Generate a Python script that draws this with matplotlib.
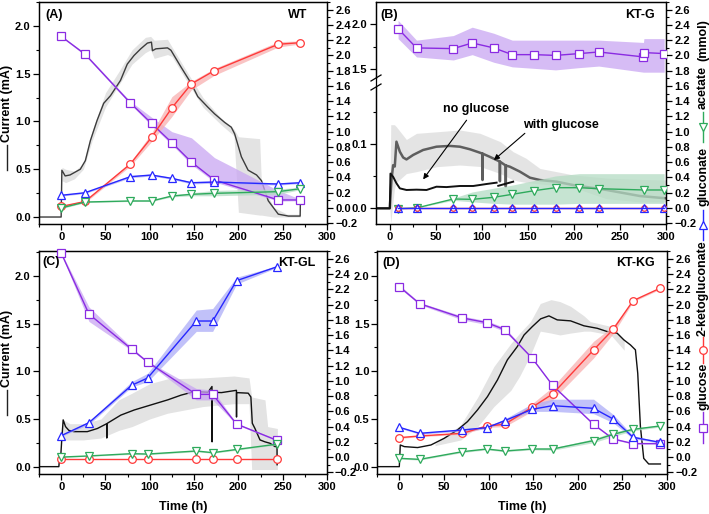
import numpy as np
import matplotlib
matplotlib.use("Agg")
import matplotlib.pyplot as plt
from matplotlib.lines import Line2D
from matplotlib.ticker import MultipleLocator, FixedLocator, FuncFormatter

plt.rcParams['font.family'] = ['Liberation Sans', 'DejaVu Sans']
plt.rcParams['font.weight'] = 'bold'
plt.rcParams['axes.labelweight'] = 'bold'
plt.rcParams['axes.linewidth'] = 0.9

# ---------------- data ----------------
# Panel A (WT)
tA = [0, 27, 78, 102, 125, 147, 173, 245, 270]
glcA = [2.25, 2.015, 1.378, 1.108, 0.855, 0.602, 0.366, 0.105, 0.105]
glcA_lo = [2.24, 2.0, 1.36, 1.08, 0.83, 0.57, 0.34, 0.09, 0.095]
glcA_hi = [2.26, 2.03, 1.40, 1.19, 1.0, 0.92, 0.66, 0.23, 0.115]
kgA = [0.02, 0.085, 0.576, 0.925, 1.313, 1.627, 1.801, 2.146, 2.167]
kgA_lo = [0.01, 0.07, 0.55, 0.87, 1.2, 1.55, 1.74, 2.11, 2.15]
kgA_hi = [0.03, 0.10, 0.60, 0.98, 1.46, 1.66, 1.83, 2.18, 2.19]
glnA = [0.166, 0.2, 0.41, 0.432, 0.388, 0.331, 0.34, 0.314, 0.331]
glnA_lo = [0.155, 0.19, 0.395, 0.42, 0.375, 0.315, 0.325, 0.30, 0.32]
glnA_hi = [0.177, 0.21, 0.425, 0.445, 0.40, 0.345, 0.355, 0.33, 0.345]
aceA = [0.0, 0.078, 0.092, 0.092, 0.157, 0.179, 0.192, 0.214, 0.253]
aceA_lo = [-0.01, 0.07, 0.085, 0.085, 0.145, 0.16, 0.16, 0.18, 0.24]
aceA_hi = [0.01, 0.085, 0.10, 0.10, 0.17, 0.20, 0.23, 0.25, 0.27]
curA_t = [-25, 0, 0.8, 4.5, 10, 21.6, 27.3, 33, 40.5, 48, 55.7, 67, 74.6, 82.2, 89.8, 97.3,
          101.9, 103, 106.8, 120, 123.9, 135.2, 146.6, 154.2, 165.5, 173.1, 184.5, 192, 195.8,
          203.4, 211, 220.5, 226.1, 233.7, 245, 256.4, 269.7, 270]
curA = [0, 0, 0.49, 0.43, 0.44, 0.5, 0.59, 0.8, 1.01, 1.19, 1.27, 1.43, 1.6, 1.69, 1.76, 1.82,
        1.83, 1.74, 1.76, 1.77, 1.745, 1.57, 1.40, 1.26, 1.15, 1.08, 0.99, 0.94, 0.87,
        0.63, 0.49, 0.44, 0.38, 0.17, 0.03, 0.01, 0.01, 0.17]
bandA_t = [0, 1, 5, 15, 25, 35, 50, 65, 80, 95, 101, 105, 120, 125, 140, 160, 180, 195, 200, 224, 226, 240, 255, 270]
bandA_lo = [0, 0.38, 0.36, 0.40, 0.50, 0.80, 1.15, 1.38, 1.60, 1.72, 1.75, 1.66, 1.70, 1.68, 1.45, 1.15, 0.97, 0.85, 0.05, 0.02, 0.02, 0.0, 0.0, 0.0]
bandA_hi = [0, 0.52, 0.50, 0.48, 0.56, 0.90, 1.30, 1.52, 1.75, 1.88, 1.89, 1.85, 1.86, 1.78, 1.55, 1.25, 1.04, 0.92, 0.84, 0.82, 0.35, 0.10, 0.03, 0.03]

# Panel B (KT-G)
tB = [9, 29, 69, 89.5, 113, 133, 157, 180, 206, 227, 275.5, 276, 298]
glcB = [2.35, 2.098, 2.089, 2.163, 2.098, 2.01, 2.01, 2.0, 2.024, 2.045, 1.98, 2.037, 2.024]
glcB_lo = [2.22, 1.98, 1.94, 2.01, 1.91, 1.85, 1.83, 1.81, 1.84, 1.86, 1.78, 1.78, 1.78]
glcB_hi = [2.46, 2.2, 2.26, 2.37, 2.29, 2.2, 2.2, 2.2, 2.2, 2.2, 2.17, 2.22, 2.22]
tB2 = [9, 29, 69, 89.5, 113, 133, 157, 180, 206, 227, 276, 298]
kgB = [0.0] * 12
glnB = [0.0] * 12
aceB = [-0.01, 0.0, 0.118, 0.113, 0.14, 0.179, 0.227, 0.266, 0.266, 0.253, 0.236, 0.236]
aceB_lo = [-0.01, 0.0, 0.10, 0.08, 0.06, 0.05, 0.05, 0.05, 0.06, 0.06, 0.06, 0.06]
aceB_hi = [-0.01, 0.0, 0.13, 0.21, 0.26, 0.30, 0.36, 0.42, 0.45, 0.45, 0.45, 0.45]
wg_t = [-15, 0, 1.8, 3.6, 5.4, 7.2, 10.9, 14.5, 18.1, 25.4, 36.2, 50.7, 65.2, 76.1, 87, 97.8,
        100.6, 100.7, 100.8, 108.7, 119.5, 119.6, 119.7, 125.9, 126, 126.1, 130.4, 141.3,
        152.2, 163, 181.2, 199, 235.5, 271.7, 300]
wg_v = [0, 0, 0.044, 0.067, 0.065, 0.1036, 0.088, 0.079, 0.076, 0.083, 0.0907, 0.0958, 0.097,
        0.0958, 0.0918, 0.0865, 0.085, 0.044, 0.085, 0.080, 0.0727, 0.042, 0.0725, 0.0665,
        0.034, 0.0665, 0.0647, 0.057, 0.0476, 0.044, 0.0414, 0.0362, 0.0285, 0.0191, 0.0155]
ng_t = [-15, 0, 0.7, 3.6, 7.2, 10.9, 18.1, 29, 39.9, 50.7, 61.6, 76.1, 90.6, 105.1, 116, 117, 117.8, 134]
ng_v = [0, 0, 0.054, 0.049, 0.039, 0.031, 0.0285, 0.029, 0.0285, 0.0336, 0.033, 0.0347,
        0.0347, 0.0378, 0.0399, np.nan, 0.035, 0.0414]
bandB_t = [0, 1, 5, 7, 18, 29, 51, 76, 98, 120, 134, 148, 163, 199, 235, 272, 300]
bandB_lo = [0, -0.023, 0.03, 0.04, 0.054, 0.057, 0.0647, 0.0673, 0.065, 0.054, 0.044, 0.04, 0.038, 0.0327, 0.015, 0.01, 0.01]
bandB_hi = [0, 0.13, 0.13, 0.127, 0.107, 0.1166, 0.119, 0.1218, 0.1166, 0.1036, 0.088, 0.0778, 0.062, 0.052, 0.047, 0.045, 0.044]

# Panel C (KT-GL)
tC = [0, 31.4, 79.5, 97.6, 152.5, 171, 197.9, 243.7]
glcC = [2.68, 1.877, 1.417, 1.247, 0.823, 0.823, 0.434, 0.219]
glcC_lo = [2.67, 1.78, 1.40, 1.235, 0.75, 0.75, 0.425, 0.21]
glcC_hi = [2.69, 1.97, 1.44, 1.26, 0.90, 0.88, 0.445, 0.23]
glnC = [0.281, 0.452, 0.942, 1.038, 1.786, 1.786, 2.315, 2.499]
glnC_lo = [0.27, 0.43, 0.92, 0.99, 1.65, 1.65, 2.27, 2.49]
glnC_hi = [0.29, 0.47, 0.99, 1.10, 1.93, 1.95, 2.36, 2.51]
kgC = [-0.02] * 8
aceC = [0.0, 0.015, 0.045, 0.04, 0.08, 0.058, 0.1, 0.17]
aceC_lo = [-0.005, 0.01, 0.035, 0.03, 0.07, 0.05, 0.09, 0.16]
aceC_hi = [0.005, 0.02, 0.055, 0.05, 0.09, 0.066, 0.11, 0.18]
curC_t = [-25, -2.6, -1.5, -0.4, 0.8, 2.3, 4.9, 8.7, 14.4, 29.5, 40.9, 51.4, 51.5, 51.6, 52.2,
          67.3, 82.5, 101.4, 120.3, 135.5, 150.6, 165.7, 170.2, 170.3, 170.4, 180.9, 197.8,
          197.9, 198.0, 211.1, 214.1, 215.7, 218.7, 224.4, 230, 235.7, 241.4, 243.6, 243.7]
curC = [0, 0, 0.12, 0.12, 0.30, 0.49, 0.42, 0.38, 0.367, 0.367, 0.40, 0.45, 0.30, 0.45, 0.455,
        0.54, 0.594, 0.647, 0.70, 0.75, 0.787, 0.78, 0.84, 0.26, 0.78, 0.776, 0.80,
        0.52, 0.776, 0.77, 0.73, 0.455, 0.40, 0.28, 0.26, 0.245, 0.21, 0.21, 0.02]
bandC_t = [0.5, 10, 25, 45, 65, 80, 100, 120, 160, 195, 212, 215, 230, 233, 244]
bandC_lo = [0.28, 0.28, 0.28, 0.30, 0.38, 0.42, 0.50, 0.56, 0.63, 0.66, 0.66, -0.03, -0.03, -0.03, -0.03]
bandC_hi = [0.50, 0.45, 0.45, 0.50, 0.70, 0.77, 0.87, 0.92, 0.93, 0.95, 0.93, 0.73, 0.70, 0.42, 0.40]

# Panel D (KT-KG)
tD = [0, 22.7, 70.8, 98, 118.1, 148.7, 171.8, 217.7, 239.7, 262, 291.8]
glcD = [2.237, 2.014, 1.826, 1.765, 1.673, 1.301, 0.942, 0.43, 0.238, 0.177, 0.177]
glcD_lo = [2.22, 2.0, 1.80, 1.74, 1.65, 1.29, 0.93, 0.42, 0.23, 0.17, 0.17]
glcD_hi = [2.26, 2.03, 1.85, 1.79, 1.70, 1.31, 0.95, 0.44, 0.25, 0.185, 0.185]
kgD = [0.255, 0.277, 0.312, 0.408, 0.43, 0.653, 0.828, 1.406, 1.677, 2.053, 2.214]
kgD_lo = [0.245, 0.267, 0.30, 0.39, 0.40, 0.60, 0.75, 1.30, 1.62, 2.04, 2.20]
kgD_hi = [0.265, 0.287, 0.32, 0.43, 0.46, 0.70, 0.92, 1.52, 1.72, 2.06, 2.22]
glnD = [0.391, 0.312, 0.356, 0.386, 0.478, 0.627, 0.675, 0.64, 0.5, 0.26, 0.194]
glnD_lo = [0.38, 0.30, 0.34, 0.37, 0.46, 0.60, 0.60, 0.57, 0.45, 0.24, 0.185]
glnD_hi = [0.40, 0.32, 0.37, 0.40, 0.50, 0.70, 0.76, 0.76, 0.56, 0.28, 0.205]
aceD = [-0.016, -0.03, 0.071, 0.106, 0.08, 0.106, 0.106, 0.216, 0.299, 0.364, 0.408]
aceD_lo = [-0.026, -0.04, 0.06, 0.095, 0.07, 0.095, 0.09, 0.19, 0.27, 0.345, 0.395]
aceD_hi = [-0.006, -0.02, 0.08, 0.115, 0.09, 0.117, 0.12, 0.24, 0.33, 0.38, 0.42]
curD_t = [-25, 0, 1.1, 5.6, 20.5, 35.4, 50.3, 65.2, 76.4, 87.6, 98.8, 110, 121.1, 132.3, 139.8,
          149.1, 158.4, 167.7, 177, 191.9, 206.9, 221.8, 232.9, 244.1, 251.6, 259, 264.6,
          267.2, 270.2, 273.9, 279.5, 292.6]
curD = [0, 0, 0.227, 0.21, 0.20, 0.227, 0.297, 0.385, 0.472, 0.594, 0.734, 0.909, 1.119, 1.259,
        1.38, 1.468, 1.549, 1.58, 1.538, 1.528, 1.476, 1.45, 1.416, 1.399, 1.329, 1.276,
        1.224, 0.979, 0.42, 0.087, 0.028, 0.028]
bandD_t = [40, 69, 88, 106, 125, 135, 147, 158, 170, 180, 192, 207, 214, 237, 252]
bandD_lo = [0.22, 0.28, 0.42, 0.63, 0.80, 0.95, 1.17, 1.42, 1.40, 1.38, 1.40, 1.42, 1.42, 1.38, 1.22]
bandD_hi = [0.24, 0.44, 0.73, 1.05, 1.29, 1.40, 1.52, 1.71, 1.75, 1.73, 1.68, 1.58, 1.52, 1.47, 1.33]

# ---------------- style ----------------
C_GLC, B_GLC = '#8A2BE2', '#C9A6F2'
C_KG, B_KG = '#FF3A3A', '#F8B0B0'
C_GLN, B_GLN = '#2727FF', '#ADADF7'
C_ACE, B_ACE = '#2EAA5C', '#B4DCC3'
GRAYBAND = '#DCDCDC'
TICKFS = 8

W, H = 709, 514
fig = plt.figure(figsize=(W / 100, H / 100), dpi=100)
fig.patch.set_facecolor('white')


def px_axes(l, r, t, b):
    return fig.add_axes([l / W, 1 - b / H, (r - l) / W, (b - t) / H])


def ftext(px, py, s, **kw):
    return fig.text(px / W, 1 - py / H, s, **kw)


minus = FuncFormatter(lambda v, p: ('%.1f' % v).replace('-', '\u2212'))


def style_axes(ax, ax2, xlim, ylr, xlabel=False, lpad=2, rpad=2):
    ax.set_xlim(*xlim)
    ax2.set_ylim(*ylr)
    ax.xaxis.set_major_locator(MultipleLocator(50))
    ax.xaxis.set_minor_locator(MultipleLocator(25))
    ax.xaxis.set_major_formatter(FuncFormatter(lambda v, p: '%d' % v))
    ax2.yaxis.set_major_locator(MultipleLocator(0.2))
    ax2.yaxis.set_minor_locator(MultipleLocator(0.1))
    ax2.yaxis.set_major_formatter(minus)
    for a in (ax, ax2):
        a.tick_params(which='major', direction='out', length=4, width=0.9, labelsize=TICKFS, pad=2)
        a.tick_params(which='minor', direction='out', length=2, width=0.8)
    ax.tick_params(axis='y', which='major', pad=lpad)
    ax2.tick_params(axis='y', which='major', pad=rpad)
    ax.tick_params(axis='x', which='major', pad=1.5)
    ax.tick_params(axis='y', which='both', right=False)
    ax.tick_params(axis='x', which='both', top=False)
    if xlabel:
        ax.set_xlabel('Time (h)', fontsize=9, labelpad=7)


def metab(ax2, t, y, lo, hi, color, band, marker, ms=5.5):
    if lo is not None:
        ax2.fill_between(t, lo, hi, color=band, alpha=0.75, lw=0, zorder=1)
    ax2.plot(t, y, color=color, lw=1.0, marker=marker, ms=ms, mfc='white',
             mec=color, mew=0.9, zorder=3)


def current(ax, t, v, bt, blo, bhi, color='#222222', lw=1.0):
    ax.fill_between(bt, blo, bhi, color=GRAYBAND, alpha=0.8, lw=0, zorder=1)
    ax.plot(t, v, color=color, lw=lw, zorder=2)


def left_std(ax, ylim):
    ax.set_ylim(*ylim)
    ax.yaxis.set_major_locator(MultipleLocator(0.5))
    ax.yaxis.set_minor_locator(MultipleLocator(0.25))
    ax.yaxis.set_major_formatter(FuncFormatter(lambda v, p: '%.1f' % v))


# ---------- Panel A ----------
axA = px_axes(39, 327, 2, 224)
axA2 = axA.twinx()
current(axA, curA_t, curA, bandA_t, bandA_lo, bandA_hi, color='#3C3C3C')
metab(axA2, tA, glcA, glcA_lo, glcA_hi, C_GLC, B_GLC, 's')
metab(axA2, tA, kgA, kgA_lo, kgA_hi, C_KG, B_KG, 'o')
metab(axA2, tA, glnA, glnA_lo, glnA_hi, C_GLN, B_GLN, '^')
metab(axA2, tA, aceA, aceA_lo, aceA_hi, C_ACE, B_ACE, 'v')
left_std(axA, (-0.073, 2.25))
style_axes(axA, axA2, (-25, 300), (-0.21, 2.7))

# ---------- Panel B (broken left axis) ----------
axB = px_axes(376, 666, 2, 224)
brk_lo, brk_hi = 0.1886, 1.40
xs_b = [-1.0, brk_lo, brk_hi, 5.0]
ys_b = [137 + (-1.0 - brk_lo) * 643, 137, 146, 146 + (5.0 - brk_hi) * 89.4]


def fwd(v):
    return np.interp(np.asarray(v, float), xs_b, ys_b)


def inv(y):
    return np.interp(np.asarray(y, float), ys_b, xs_b)


axB.set_yscale('function', functions=(fwd, inv))
axB2 = axB.twinx()
axB.fill_between(bandB_t, bandB_lo, bandB_hi, color=GRAYBAND, alpha=0.75, lw=0, zorder=1)
axB.plot(wg_t, wg_v, color='#5E5E5E', lw=1.8, zorder=2)
axB.plot(ng_t, ng_v, color='#111111', lw=1.4, zorder=2)
metab(axB2, tB, glcB, glcB_lo, glcB_hi, C_GLC, B_GLC, 's')
metab(axB2, tB2, aceB, aceB_lo, aceB_hi, C_ACE, B_ACE, 'v')
metab(axB2, tB2, kgB, None, None, C_KG, B_KG, 'o', ms=4)
metab(axB2, tB2, glnB, None, None, C_GLN, B_GLN, '^')
axB2.lines[-1].set_markerfacecolor('none')
axB.set_ylim(-0.0244, 2.25)
axB.yaxis.set_major_locator(FixedLocator([0.0, 0.1, 1.5, 2.0]))
axB.yaxis.set_minor_locator(FixedLocator([0.05, 0.15, 1.75]))
axB.yaxis.set_major_formatter(FuncFormatter(lambda v, p: '%.1f' % v))
style_axes(axB, axB2, (-15, 300), (-0.21, 2.7), lpad=2.5)
# broken spine
axB.spines['left'].set_visible(False)
f_lo = 137 / 222.0
f_hi = 146 / 222.0
axB.plot([0, 0], [0, f_lo], transform=axB.transAxes, color='k', lw=0.9, clip_on=False, zorder=5)
axB.plot([0, 0], [f_hi, 1], transform=axB.transAxes, color='k', lw=0.9, clip_on=False, zorder=5)
for yy in (f_lo, f_hi):
    axB.plot([-5 / 290, 5 / 290], [yy - 3 / 222, yy + 3 / 222], transform=axB.transAxes,
             color='k', lw=0.9, clip_on=False, zorder=5)
axB.annotate('', xy=(36.2, 0.045), xytext=(83.4, 0.137),
             arrowprops=dict(arrowstyle='-|>', color='k', lw=0.8, mutation_scale=8,
                             shrinkA=0, shrinkB=0))
axB.text(93.5, 0.155, 'no glucose', ha='center', va='center', fontsize=9)
axB.annotate('', xy=(113, 0.075), xytext=(146.7, 0.1166),
             arrowprops=dict(arrowstyle='-|>', color='k', lw=0.8, mutation_scale=8,
                             shrinkA=0, shrinkB=0))
axB.text(185.9, 0.130, 'with glucose', ha='center', va='center', fontsize=9)

# ---------- Panel C ----------
axC = px_axes(39, 327, 251, 474)
axC2 = axC.twinx()
current(axC, curC_t, curC, bandC_t, bandC_lo, bandC_hi, color='#111111')
metab(axC2, tC, glcC, glcC_lo, glcC_hi, C_GLC, B_GLC, 's')
metab(axC2, tC, kgC, None, None, C_KG, B_KG, 'o')
metab(axC2, tC, glnC, glnC_lo, glnC_hi, C_GLN, B_GLN, '^')
metab(axC2, tC, aceC, aceC_lo, aceC_hi, C_ACE, B_ACE, 'v')
for ln in axC2.lines:
    ln.set_clip_on(False)
left_std(axC, (-0.077, 2.26))
style_axes(axC, axC2, (-25, 300), (-0.222, 2.705), xlabel=True, rpad=1.5)

# ---------- Panel D ----------
axD = px_axes(377, 667, 251, 474)
axD2 = axD.twinx()
current(axD, curD_t, curD, bandD_t, bandD_lo, bandD_hi, color='#111111')
metab(axD2, tD, glcD, glcD_lo, glcD_hi, C_GLC, B_GLC, 's')
metab(axD2, tD, kgD, kgD_lo, kgD_hi, C_KG, B_KG, 'o')
metab(axD2, tD, glnD, glnD_lo, glnD_hi, C_GLN, B_GLN, '^')
metab(axD2, tD, aceD, aceD_lo, aceD_hi, C_ACE, B_ACE, 'v')
left_std(axD, (-0.077, 2.26))
style_axes(axD, axD2, (-25, 300), (-0.222, 2.705), xlabel=True, lpad=1.5)

# ---------- panel labels ----------
for (px, py, s, ha) in [(45, 15, '(A)', 'left'), (307, 15, 'WT', 'right'),
                        (380, 15, '(B)', 'left'), (655, 15, 'KT-G', 'right'),
                        (42, 262, '(C)', 'left'), (315, 263, 'KT-GL', 'right'),
                        (382, 263, '(D)', 'left'), (655, 263, 'KT-KG', 'right')]:
    ftext(px, py, s, ha=ha, va='center', fontsize=9)

# ---------- left y labels ----------
for (tc, l1, l2) in [(103, 145, 170), (348, 390, 415)]:
    ftext(7.5, tc, 'Current (mA)', rotation=90, ha='center', va='center', fontsize=9)
    fig.add_artist(Line2D([7 / W, 7 / W], [1 - l1 / H, 1 - l2 / H], color='#222222', lw=1.0))

# ---------- right composite label ----------
RX = 703
ftext(RX, 40, '(mmol)', rotation=90, ha='center', va='center', fontsize=9)
ftext(RX, 87, 'acetate', rotation=90, ha='center', va='center', fontsize=9)
ftext(RX, 176, 'gluconate', rotation=90, ha='center', va='center', fontsize=9)
ftext(RX, 288, '2-ketogluconate', rotation=90, ha='center', va='center', fontsize=9)
ftext(RX, 386, 'glucose', rotation=90, ha='center', va='center', fontsize=9)
for (y1, y2, col, mk) in [(112, 142, C_ACE, 'v'), (210, 240, C_GLN, '^'),
                          (337, 363, C_KG, 'o'), (412, 443, C_GLC, 's')]:
    fig.add_artist(Line2D([RX / W, RX / W], [1 - y1 / H, 1 - y2 / H], color=col, lw=1.0))
    fig.add_artist(Line2D([RX / W], [1 - (y1 + y2) / 2 / H], color=col, marker=mk, ms=5.5,
                          mfc='white', mec=col, mew=0.9))

fig.savefig('out.png', dpi=100, facecolor='white')
